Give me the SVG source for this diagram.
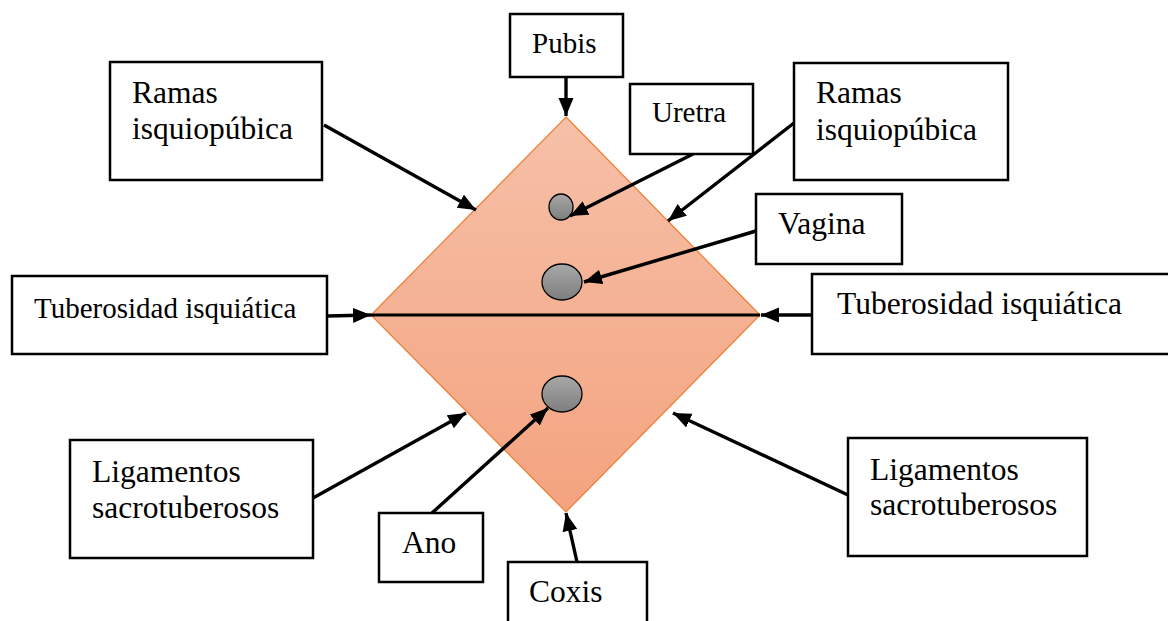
<svg xmlns="http://www.w3.org/2000/svg" width="1168" height="621" viewBox="0 0 1168 621">
<style>
.box{fill:#fff;stroke:#000;stroke-width:2.5}
.t{font-family:"Liberation Serif","Times New Roman",serif;font-size:31.5px;fill:#000}
.s{font-size:29px}
.c{fill:none;stroke:#000;stroke-width:3.4;marker-end:url(#ah)}
.org{fill:url(#gray);stroke:#000;stroke-width:1.3}
</style>
<defs>
<linearGradient id="peach" x1="0" y1="0" x2="0" y2="1">
<stop offset="0" stop-color="#F6C0A8"/>
<stop offset="1" stop-color="#F4A37F"/>
</linearGradient>
<linearGradient id="gray" x1="0" y1="0" x2="0" y2="1">
<stop offset="0" stop-color="#A8A8A8"/>
<stop offset="1" stop-color="#7E7E7E"/>
</linearGradient>
<marker id="ah" markerUnits="userSpaceOnUse" markerWidth="19" markerHeight="16" refX="18" refY="7.5" orient="auto">
<path d="M0,0 L18,7.5 L0,15 z" fill="#000"/>
</marker>
</defs>

<g id="perine">
<polygon points="566,117 760,315 566,512 371,315" fill="url(#peach)" stroke="#ED7D31" stroke-width="1.2"/>
<line x1="371" y1="315" x2="760" y2="315" stroke="#000" stroke-width="3.2"/>
</g>
<g id="uretra-org"><ellipse class="org" cx="561" cy="207" rx="12" ry="13"/></g>
<g id="vagina-org"><ellipse class="org" cx="562" cy="282" rx="20" ry="18"/></g>
<g id="ano-org"><ellipse class="org" cx="562" cy="394" rx="20" ry="18"/></g>

<g id="connectors">
<line class="c" x1="566" y1="77" x2="566" y2="116"/>
<line class="c" x1="324" y1="125" x2="476" y2="210"/>
<line class="c" x1="693" y1="154" x2="570" y2="216"/>
<line class="c" x1="794" y1="123" x2="668" y2="221"/>
<line class="c" x1="756" y1="231" x2="584" y2="282"/>
<line class="c" x1="327" y1="316" x2="371" y2="315"/>
<line class="c" x1="812" y1="315" x2="761" y2="315"/>
<line class="c" x1="313" y1="498" x2="466" y2="413"/>
<line class="c" x1="432" y1="513" x2="548" y2="408"/>
<line class="c" x1="848" y1="495" x2="673" y2="413"/>
<line class="c" x1="577" y1="562" x2="566" y2="513"/>
</g>

<g id="pubis"><rect class="box" x="510" y="14" width="113" height="63"/><text class="t s" x="532" y="53">Pubis</text></g>
<g id="ramas-izq"><rect class="box" x="110" y="62" width="212" height="118"/><text class="t" x="132" y="103">Ramas</text><text class="t" x="132" y="139">isquiopúbica</text></g>
<g id="uretra"><rect class="box" x="630" y="84" width="123" height="70"/><text class="t s" x="652" y="122">Uretra</text></g>
<g id="ramas-der"><rect class="box" x="794" y="63" width="214" height="117"/><text class="t" x="816" y="103">Ramas</text><text class="t" x="816" y="140">isquiopúbica</text></g>
<g id="vagina"><rect class="box" x="756" y="194" width="146" height="70"/><text class="t" x="778" y="234">Vagina</text></g>
<g id="tub-izq"><rect class="box" x="12" y="276" width="315" height="78"/><text class="t s" x="34" y="318">Tuberosidad isquiática</text></g>
<g id="tub-der"><rect class="box" x="812" y="274" width="358" height="80"/><text class="t" x="837" y="314">Tuberosidad isquiática</text></g>
<g id="lig-izq"><rect class="box" x="70" y="440" width="243" height="118"/><text class="t" x="92" y="482">Ligamentos</text><text class="t" x="92" y="518">sacrotuberosos</text></g>
<g id="lig-der"><rect class="box" x="848" y="438" width="239" height="118"/><text class="t" x="870" y="480">Ligamentos</text><text class="t" x="870" y="515">sacrotuberosos</text></g>
<g id="ano"><rect class="box" x="379" y="513" width="104" height="69"/><text class="t" x="402" y="553">Ano</text></g>
<g id="coxis"><rect class="box" x="508" y="562" width="139" height="70"/><text class="t" x="529" y="602">Coxis</text></g>
</svg>
